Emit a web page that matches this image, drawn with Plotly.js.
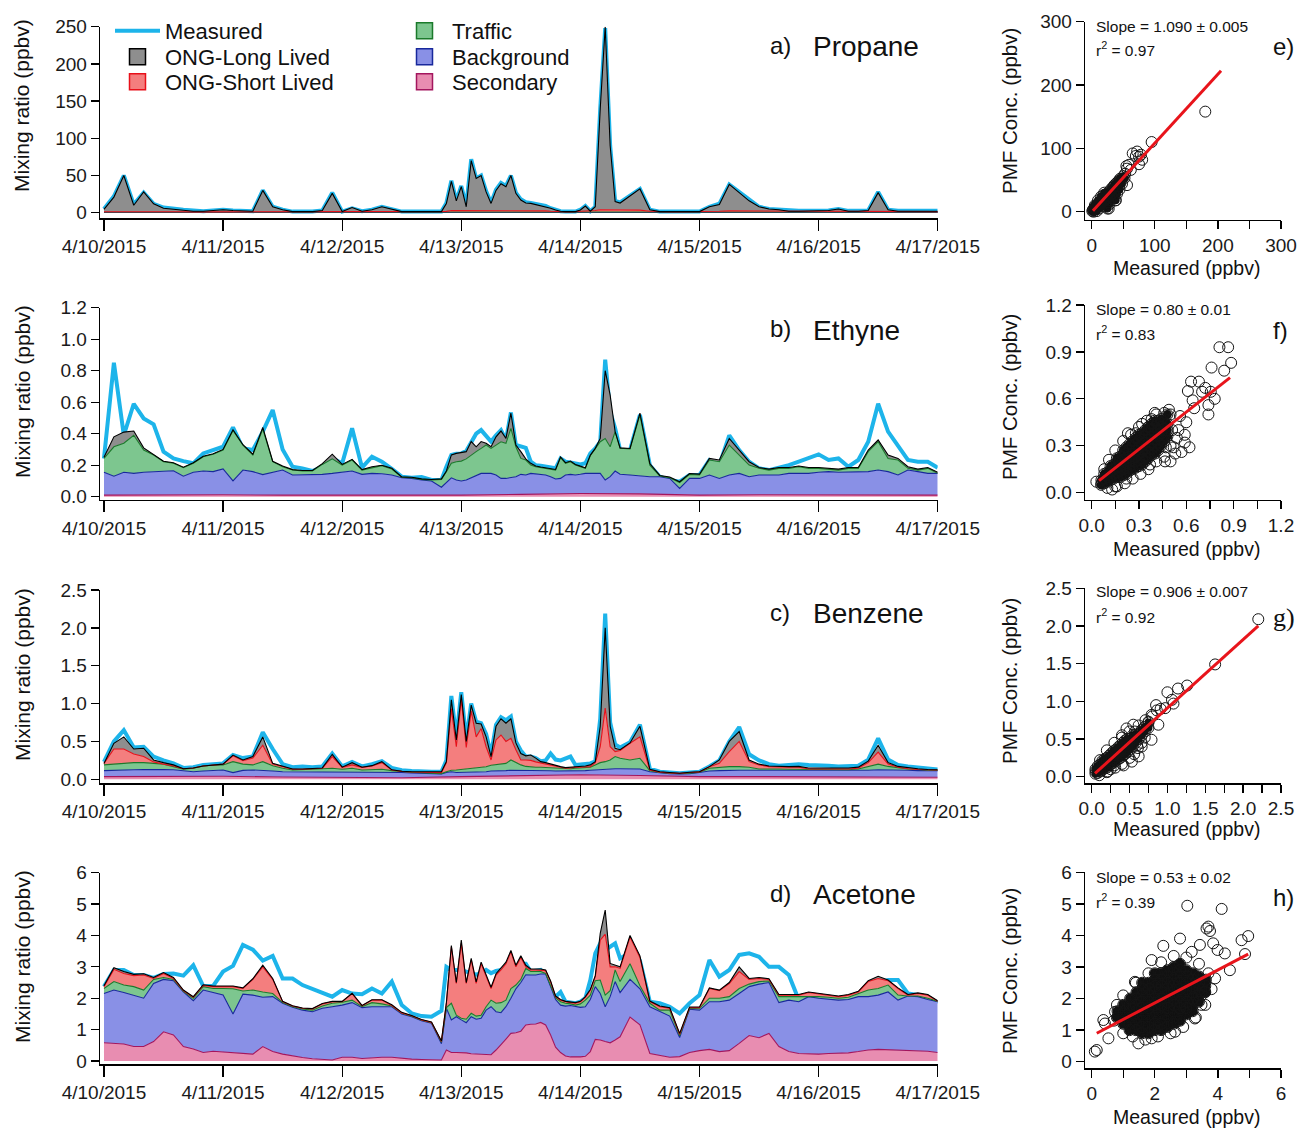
<!DOCTYPE html>
<html><head><meta charset="utf-8">
<script src="https://cdn.plot.ly/plotly-3.0.1.min.js"></script>
<style>html,body{margin:0;padding:0;background:#fff;}#chart{width:1298px;height:1129px;}</style>
</head><body><div id="chart"></div>
<script>
// ---------- sampling times (hours after 4/10/2015 00:00) ----------
const hours = [0,2,4,6,8,10,12,14,16,18,20,22,24,26,28,30,32,34,36,38,40,42,44,46,48,50,52,54,56,58,60,62,64,66,
68,69,70,71,72,73,74,75,76,77,78,79,80,81,82,83,84,85,86,87,88,89,90,91,92,93,94,95,96,97,98,99,100,101,102,103,104,
106,108,110,112,114,116,118,120,122,124,126,128,130,132,134,136,138,140,142,144,146,148,150,152,154,156,158,160,162,164,166,168];
const hours12 = [0,12,24,36,48,60,72,84,96,108,120,132,144,156,168];
const dayTickFormat = '%-m/%-d/%Y';

// ---------- a) Propane (ppbv); stacked layer tops ----------
const propane_measured = [5,22,50,11,27,12,7,5,4,3,2,3,4,3,3,2,30,8,4,1.5,1.5,1.5,3,27,1.5,6,2,4,8,5,1.5,1.5,2,1.5,
1.5,13,43,16,36,9,72,46,50,29,13,31,40,36,50,27,18,14,13,12,10,9,6,4,2,1.5,1.5,1.5,4,9,2,8,140,248,90,16,14,
23,32,4,1.5,1.5,1.5,1.5,1.5,8,12,38,28,17,8,5,4,2.5,2.5,2.5,3,3,5,2.5,2.5,3,28,4,2.5,2.5,2.5,2.5,2.5];
const propane_secondaryTop12 = [0.3,0.3,0.3,0.3,0.3,0.3,0.4,0.4,0.4,0.3,0.3,0.3,0.3,0.3,0.3];
const propane_backgroundTop12 = [0.8,0.8,0.8,0.8,0.7,0.7,0.9,0.9,0.9,0.8,0.7,0.8,0.8,0.8,0.8];
const propane_trafficTop12 = [1.0,1.0,1.0,1.0,0.9,0.9,1.1,1.1,1.1,1.0,0.9,1.0,1.0,1.0,1.0];
const propane_shortTop = [1.4,1.5,1.5,1.4,1.5,1.4,1.3,1.3,1.3,1.2,1.2,1.3,1.3,1.3,1.3,1.2,1.5,1.3,1.3,1.2,1.2,1.2,1.3,1.4,1.2,1.3,1.2,1.3,1.3,1.3,1.2,1.2,1.2,1.2,
1.2,1.8,3,3,3.5,3,3.5,3.5,3,3,3,3,3.5,3.5,3.5,3,3,3,3,3,3,2.5,2,1.5,1.3,1.3,1.3,1.5,2,2,1.8,3,4,4,3,3,3,
3,3.5,2,1.3,1.3,1.3,1.3,1.3,1.5,2,2.5,2.5,2,2,1.5,1.5,1.5,1.5,1.5,1.5,1.5,1.5,1.5,1.5,1.5,2,1.5,1.5,1.5,1.5,1.5,1.5];
const propane_longTop = [4.5,21,50,10,28,12,6,5,3,2,2,3,4,3,3,2,30,8,4,1.5,1.5,1.5,3,26,1.5,7,2,4,8,5,1.5,1.5,2,1.5,
1.5,12.5,42,16,35,8,70,46,50,28,12.5,30,39,35,50,26,17,13,12.5,11,10,8,6,3.6,2,1.5,1.5,1.5,3.6,9,2,8,140,250,90,15,13,
22,32,4,1.5,1.5,1.5,1.5,1.5,8,11,38,27,16,8,5,4,2,2,2,3,3,5,2,2,3,27,4,2,2,2,2,2];

// ---------- b) Ethyne ----------
const ethyne_measured = [.243,.85,.39,.59,.497,.46,.286,.243,.226,.212,.275,.296,.317,.44,.307,.296,.413,.55,.3,.19,.18,.163,.19,.243,.212,.434,.184,.254,.222,.176,.127,.12,.125,.106,
.106,.19,.265,.273,.275,.29,.35,.40,.423,.39,.35,.39,.423,.36,.535,.328,.317,.31,.222,.2,.197,.19,.184,.18,.243,.222,.218,.212,.205,.212,.275,.307,.35,.87,.54,.434,.296,
.296,.52,.2,.127,.106,.095,.138,.138,.233,.2,.39,.296,.222,.18,.169,.184,.2,.222,.243,.269,.233,.243,.19,.233,.349,.59,.413,.328,.233,.222,.222,.184];
const ethyne_secondaryTop12 = [0.01,0.012,0.012,0.01,0.01,0.008,0.01,0.015,0.02,0.018,0.01,0.012,0.012,0.012,0.01];
const ethyne_backgroundTop = [.155,.13,.155,.148,.155,.159,.163,.165,.13,.155,.163,.159,.176,.10,.169,.159,.14,.155,.169,.138,.138,.142,.142,.148,.155,.163,.142,.148,.146,.138,.12,.116,.106,.10,
.06,.09,.12,.106,.10,.106,.12,.133,.148,.148,.148,.138,.116,.116,.12,.127,.142,.138,.148,.144,.142,.138,.127,.112,.116,.138,.142,.138,.142,.148,.148,.148,.148,.106,.127,.163,.142,
.138,.133,.127,.127,.116,.053,.116,.116,.138,.116,.138,.148,.127,.138,.138,.138,.148,.148,.148,.155,.159,.155,.155,.155,.159,.169,.159,.138,.169,.159,.148,.148];
const ethyne_trafficTop = [.243,.317,.339,.39,.296,.265,.222,.212,.184,.212,.254,.269,.296,.42,.328,.265,.43,.222,.19,.169,.163,.163,.205,.24,.201,.233,.169,.184,.197,.176,.123,.12,.11,.106,
.11,.159,.212,.222,.226,.24,.265,.286,.307,.328,.307,.328,.349,.339,.434,.317,.243,.233,.201,.19,.184,.18,.176,.169,.248,.212,.222,.201,.19,.18,.26,.303,.349,.37,.317,.413,.307,
.303,.52,.2,.131,.12,.09,.142,.138,.233,.222,.328,.265,.201,.18,.169,.18,.18,.19,.18,.18,.176,.169,.18,.18,.286,.349,.243,.233,.18,.169,.18,.148];
const ethyne_longTop = [.25,.38,.41,.417,.31,.27,.225,.215,.187,.215,.257,.272,.3,.425,.33,.27,.44,.225,.195,.172,.166,.166,.21,.27,.205,.237,.172,.19,.2,.18,.126,.123,.113,.109,
.113,.163,.265,.275,.28,.286,.35,.317,.35,.339,.317,.38,.417,.37,.53,.328,.286,.24,.212,.195,.188,.184,.18,.173,.252,.216,.226,.205,.194,.184,.264,.307,.37,.80,.645,.413,.31,
.306,.53,.21,.135,.125,.095,.147,.143,.243,.233,.37,.296,.222,.185,.175,.185,.185,.195,.185,.185,.18,.175,.185,.185,.296,.36,.265,.243,.19,.175,.185,.155];

// ---------- c) Benzene ----------
const benzene_measured = [.23,.5,.65,.42,.43,.3,.25,.21,.15,.16,.19,.2,.21,.32,.28,.3,.62,.4,.2,.16,.17,.16,.17,.34,.17,.23,.17,.2,.24,.15,.12,.11,.1,.1,
.1,.25,1.1,.55,1.15,.52,1.0,.76,.74,.6,.33,.72,.82,.78,.83,.5,.38,.3,.3,.28,.24,.25,.34,.26,.25,.28,.3,.19,.2,.21,.21,.235,.8,2.19,.75,.46,.42,
.49,.72,.14,.1,.09,.08,.09,.1,.17,.25,.5,.69,.33,.25,.2,.18,.19,.2,.19,.19,.18,.17,.17,.18,.26,.54,.26,.19,.17,.16,.15,.13];
const benzene_secondaryTop12 = [0.035,0.04,0.04,0.03,0.03,0.02,0.035,0.05,0.06,0.05,0.035,0.035,0.03,0.03,0.026];
const benzene_backgroundTop = [.114,.12,.123,.125,.128,.132,.13,.125,.114,.1,.11,.118,.123,.088,.118,.123,.12,.11,.1,.1,.1,.1,.1,.1,.1,.1,.1,.1,.1,.1,.09,.085,.08,.078,
.07,.09,.1,.09,.09,.09,.1,.1,.1,.1,.11,.11,.11,.115,.12,.12,.12,.12,.12,.12,.12,.115,.113,.11,.11,.11,.11,.11,.115,.115,.12,.125,.13,.13,.135,.14,.14,
.138,.135,.1,.085,.075,.07,.075,.09,.11,.115,.12,.12,.12,.12,.12,.115,.115,.115,.115,.115,.115,.115,.115,.118,.12,.125,.125,.12,.12,.115,.115,.114];
const benzene_trafficTop = [.19,.2,.21,.22,.22,.21,.2,.167,.132,.145,.176,.185,.19,.233,.2,.19,.233,.18,.145,.123,.123,.132,.14,.145,.132,.145,.123,.123,.132,.114,.1,.092,.088,.08,
.075,.1,.12,.123,.13,.133,.14,.145,.154,.165,.185,.19,.2,.21,.255,.22,.19,.17,.16,.158,.158,.154,.15,.145,.145,.14,.14,.145,.15,.155,.16,.19,.22,.233,.255,.3,.277,
.255,.277,.114,.09,.08,.075,.08,.095,.145,.158,.167,.167,.158,.136,.14,.135,.133,.132,.125,.125,.125,.125,.125,.135,.17,.2,.17,.155,.135,.13,.12,.12];
const benzene_shortTop = [.21,.4,.4,.335,.3,.23,.2,.176,.14,.15,.176,.19,.2,.31,.246,.28,.45,.2,.167,.132,.132,.14,.145,.3,.158,.19,.158,.176,.22,.123,.105,.097,.097,.088,
.088,.22,.93,.43,1.05,.42,.9,.56,.67,.43,.255,.52,.585,.5,.54,.39,.255,.255,.25,.23,.216,.2,.19,.167,.158,.145,.15,.16,.158,.16,.167,.22,.43,.94,.43,.365,.38,
.475,.56,.123,.095,.085,.078,.09,.098,.167,.21,.365,.5,.233,.19,.167,.16,.16,.16,.135,.135,.135,.135,.135,.145,.22,.36,.2,.16,.14,.13,.125,.123];
const benzene_longTop = [.21,.475,.56,.4,.41,.255,.22,.19,.14,.15,.176,.19,.2,.32,.255,.3,.56,.21,.176,.135,.135,.145,.15,.33,.16,.22,.16,.18,.233,.125,.107,.1,.1,.09,
.1,.233,1.05,.52,1.12,.5,.98,.74,.73,.56,.3,.7,.8,.74,.8,.48,.34,.31,.32,.28,.233,.22,.2,.19,.167,.154,.158,.167,.176,.176,.19,.233,.7,2.0,.7,.41,.39,
.48,.7,.132,.1,.088,.079,.092,.1,.167,.255,.5,.63,.255,.2,.176,.167,.167,.17,.15,.15,.15,.15,.15,.16,.24,.45,.22,.17,.15,.14,.13,.125];

// ---------- d) Acetone ----------
const acetone_measured = [2.37,2.9,2.9,2.74,2.74,2.65,2.77,2.79,2.72,3.05,2.39,2.39,2.85,3.03,3.7,3.55,3.2,3.35,2.63,2.63,2.42,2.29,2.18,2.05,2.26,2.15,2.13,2.31,2.15,2.53,1.78,1.52,1.43,1.41,
1.6,3.0,2.9,2.9,2.9,2.85,2.79,2.75,2.8,2.9,2.8,2.87,2.9,3.0,3.15,3.0,3.1,3.1,2.85,2.88,2.9,2.69,2.2,2.05,2.2,1.89,1.86,1.84,1.89,2.0,2.58,3.43,3.75,3.54,3.64,3.75,3.27,
3.45,3.2,1.89,1.84,1.73,1.52,1.84,2.1,3.22,2.69,2.9,3.38,3.43,3.32,3.0,3.0,2.74,1.95,1.98,1.95,1.9,1.88,1.92,2.0,2.4,2.5,2.58,2.58,2.15,2.1,2.05,1.85];
const acetone_secondaryTop = [.58,.56,.54,.46,.46,.62,.93,.83,.46,.38,.27,.31,.29,.27,.24,.22,.46,.3,.22,.16,.11,.07,.05,.03,.12,.12,.08,.11,.12,.12,.08,.06,.05,.04,
.03,.35,.27,.27,.27,.26,.23,.22,.2,.19,.2,.35,.51,.7,.88,.9,.95,1.15,1.17,1.18,1.23,1.15,.83,.44,.27,.16,.13,.12,.13,.15,.3,.69,.67,.62,.58,.67,.77,
1.4,1.15,.24,.19,.12,.14,.27,.33,.37,.3,.33,.56,.81,.74,.88,.46,.3,.24,.22,.22,.24,.25,.26,.3,.35,.37,.36,.35,.33,.33,.31,.27];
const acetone_backgroundTop = [2.15,2.26,2.18,2.1,2.0,2.47,2.6,2.56,2.2,1.92,2.26,2.18,2.1,1.5,2.13,2.1,2.03,2.05,1.84,1.71,1.62,1.57,1.68,1.73,1.78,1.86,1.7,1.73,1.73,1.73,1.5,1.41,1.28,1.2,
.55,1.68,1.31,1.41,1.31,1.22,1.41,1.33,1.36,1.62,1.73,1.57,1.54,1.73,2.0,2.3,2.5,2.75,2.74,2.74,2.77,2.77,2.37,1.96,1.78,1.75,1.77,1.73,1.71,1.73,1.96,2.37,2.15,1.73,2.05,2.53,2.18,
2.6,2.3,1.73,1.57,1.43,.75,1.65,1.62,1.89,1.89,1.94,2.15,2.37,2.45,2.5,1.86,1.94,1.89,2.05,2.0,1.96,1.94,1.96,2.05,2.05,2.1,2.2,1.94,2.07,2.05,1.96,1.89];
const acetone_trafficTop = [2.31,2.53,2.42,2.37,2.26,2.6,2.66,2.6,2.22,2.0,2.37,2.31,2.31,2.3,2.23,2.26,2.2,2.15,1.86,1.73,1.66,1.62,1.75,1.84,1.87,1.94,1.73,1.86,1.82,1.75,1.52,1.43,1.3,1.22,
.6,1.7,1.84,1.46,1.36,1.33,1.52,1.43,1.46,1.73,1.94,1.84,1.86,1.94,2.31,2.42,2.6,2.95,2.85,2.85,2.85,2.79,2.39,2.02,1.89,1.84,1.82,1.78,1.82,1.94,2.1,2.56,2.58,2.1,2.24,2.9,2.53,
3.1,2.4,1.84,1.62,1.62,.8,1.67,1.68,2.0,2.0,2.05,2.31,2.45,2.53,2.55,2.05,2.05,2.05,2.07,2.05,2.03,2.0,2.03,2.15,2.26,2.31,2.42,2.1,2.07,2.07,2.0,1.9];
const acetone_shortTop = [2.37,2.92,2.79,2.72,2.74,2.63,2.79,2.63,2.24,2.03,2.41,2.37,2.37,2.37,2.31,2.6,3.0,2.6,1.89,1.75,1.68,1.66,1.82,1.89,1.89,2.15,1.76,1.94,1.94,1.77,1.53,1.44,1.31,1.23,
.62,1.84,3.64,2.47,3.75,2.47,3.22,2.47,3.1,2.69,2.31,2.74,2.9,3.1,3.48,3.0,3.3,3.0,2.9,2.9,2.9,2.88,2.53,2.05,1.94,1.89,1.86,1.84,1.89,2.03,2.26,2.69,3.85,4.04,3.0,3.0,2.95,
3.95,3.3,1.89,1.73,1.68,.85,1.7,1.7,2.31,2.24,2.47,2.85,2.6,2.63,2.6,2.1,2.1,2.1,2.18,2.13,2.1,2.05,2.1,2.2,2.53,2.63,2.56,2.31,2.1,2.15,2.1,1.9];
const acetone_longTop = [2.4,2.97,2.85,2.76,2.78,2.66,2.82,2.66,2.26,2.05,2.43,2.39,2.39,2.39,2.33,2.62,3.05,2.63,1.9,1.76,1.69,1.67,1.83,1.9,1.9,2.16,1.77,1.95,1.95,1.79,1.55,1.45,1.32,1.24,
.64,1.86,3.68,2.5,3.85,2.5,3.27,2.52,3.15,2.73,2.35,2.78,2.95,3.15,3.52,3.05,3.35,3.05,2.93,2.93,2.93,2.9,2.55,2.07,1.96,1.9,1.88,1.86,1.9,2.05,2.28,2.72,4.07,4.81,3.11,3.05,3.0,
4.0,3.35,1.91,1.75,1.7,.88,1.72,1.72,2.33,2.26,2.5,3.0,2.63,2.66,2.62,2.12,2.12,2.12,2.2,2.15,2.12,2.07,2.12,2.22,2.56,2.7,2.58,2.33,2.12,2.17,2.12,1.92];

// ---------- scatter panels: measured vs PMF (dense core + sparse outer points) ----------
const e_core_measured = [1,2,3,4,5,6,7,8,9,10,11,12,13,14,15,16,17,18,19,20,21,22,23,24,25,27,28,30,31,33,34,36,37,39,40,42,43,45,47,48,50,52,26,28,30,33,36,25,22,38,40,44,20,15,10,5,3,8,12];
const e_core_pmf = [1,3,2,5,4,7,6,10,8,12,9,14,12,16,13,19,15,21,17,23,18,26,20,28,22,31,25,35,27,38,30,42,33,45,36,48,40,52,50,44,56,53,15,12,18,22,25,5,8,18,28,35,30,24,18,10,0,1,5];
const e_outer_measured = [55,59,56,65,72,75,80,75,78,95,56,38,27,180,70,62,53,45,35,18,6];
const e_outer_pmf = [72,74,68,92,95,87,82,75,90,110,42,18,5,158,88,66,60,50,40,25,9];
const e_fitX = [2,205], e_fitY = [1.5,222.5];

const f_core_measured = [.06,.062,.08,.08,.08,.10,.10,.10,.12,.12,.12,.12,.14,.14,.14,.14,.16,.16,.16,.16,.16,.18,.18,.18,.18,.18,
.20,.20,.20,.20,.20,.20,.22,.22,.22,.22,.22,.22,.24,.24,.24,.24,.24,.24,.26,.26,.26,.26,.26,.26,.28,.28,.28,.28,.28,.28,
.30,.30,.30,.30,.30,.30,.32,.32,.32,.32,.32,.32,.34,.34,.34,.34,.34,.34,.36,.36,.36,.36,.36,.36,.38,.38,.38,.38,.38,.38,
.40,.40,.40,.40,.40,.40,.42,.42,.42,.42,.42,.44,.44,.44,.44,.44,.46,.46,.46,.46,.48,.48,.48,.48];
const f_core_pmf = [.05,.08,.06,.09,.12,.07,.10,.13,.08,.11,.14,.17,.09,.12,.15,.18,.10,.13,.16,.19,.22,.10,.14,.17,.20,.23,
.11,.15,.18,.21,.24,.27,.12,.16,.19,.22,.25,.29,.14,.17,.20,.23,.27,.31,.15,.18,.22,.25,.29,.33,.16,.20,.23,.27,.31,.35,
.17,.21,.25,.29,.33,.37,.18,.22,.26,.30,.34,.38,.20,.24,.28,.32,.36,.40,.22,.26,.30,.34,.38,.42,.24,.28,.32,.36,.40,.44,
.25,.30,.34,.38,.42,.46,.27,.32,.36,.40,.44,.30,.34,.38,.42,.47,.33,.37,.41,.45,.36,.40,.44,.50];
const f_outer_measured = [.81,.865,.884,.84,.76,.63,.68,.72,.755,.70,.61,.64,.78,.74,.74,.65,.60,.59,.59,.62,.57,.53,.50,.465,.52,.54,.56,.49,.40,.38,.42,.44,.51,.55,.28,.23,.32,.36,.45,.47,.37,.32,.15,.13,.22,.063,.03,
.10,.16,.21,.26,.31,.36,.41,.46,.50,.50,.46,.41,.35,.30,.25,.20,.15,.11,.08];
const f_outer_pmf = [.93,.93,.83,.78,.80,.71,.71,.67,.645,.645,.65,.59,.60,.56,.50,.54,.45,.37,.32,.29,.26,.25,.20,.20,.29,.35,.49,.53,.51,.47,.46,.40,.40,.40,.38,.38,.44,.42,.35,.29,.18,.21,.04,.02,.09,.06,.07,
.03,.04,.06,.09,.12,.15,.20,.23,.30,.50,.51,.50,.46,.42,.37,.33,.27,.21,.15];
const f_fitX = [0.047,0.877], f_fitY = [0.077,0.736];

const g_core_measured = [.05,.05,.05,.08,.08,.08,.08,.11,.11,.11,.11,.14,.14,.14,.14,.14,.17,.17,.17,.17,.17,.20,.20,.20,.20,.20,
.23,.23,.23,.23,.23,.26,.26,.26,.26,.26,.29,.29,.29,.29,.29,.32,.32,.32,.32,.32,.35,.35,.35,.35,.35,.38,.38,.38,.38,.38,
.41,.41,.41,.41,.41,.44,.44,.44,.44,.44,.47,.47,.47,.47,.47,.50,.50,.50,.50,.54,.54,.54,.54,.58,.58,.58,.62,.62,.66,.66,.70,.70,.75,.75];
const g_core_pmf = [.04,.07,.10,.05,.08,.11,.14,.07,.10,.13,.16,.09,.12,.15,.18,.21,.11,.14,.17,.20,.23,.12,.16,.19,.22,.25,
.15,.18,.21,.24,.28,.17,.20,.23,.27,.31,.19,.22,.26,.30,.34,.21,.25,.28,.32,.36,.23,.27,.31,.35,.39,.25,.29,.33,.37,.42,
.28,.32,.36,.40,.45,.30,.34,.38,.43,.48,.33,.37,.41,.46,.50,.36,.40,.45,.50,.40,.45,.50,.55,.45,.50,.56,.50,.56,.55,.62,.60,.66,.65,.72];
const g_outer_measured = [2.2,1.63,1.26,1.14,1.0,1.08,.97,1.06,.86,.88,.79,.79,.66,.62,.53,.42,.66,.75,.57,.46,.55,.40,.70,.60,.30,.25,.20,
.10,.21,.31,.40,.50,.56,.61,.66,.50,.40,.30,.20,.11,.62,.71,.80,.85,.91];
const g_outer_pmf = [2.09,1.49,1.21,1.17,1.12,.97,.91,1.02,.88,.69,.82,.49,.40,.27,.20,.15,.60,.73,.60,.64,.69,.55,.52,.42,.15,.10,.06,
.02,.07,.12,.17,.25,.30,.38,.45,.60,.52,.45,.35,.22,.68,.75,.80,.95,.90];
const g_fitX = [0.044,2.2], g_fitY = [0.044,2.0];

const h_core_measured = [.8,.82,1.0,1.0,1.02,1.0,1.2,1.2,1.22,1.2,1.2,1.22,1.4,1.4,1.4,1.42,1.4,1.4,1.42,
1.6,1.6,1.6,1.62,1.6,1.6,1.6,1.62,1.6,1.8,1.8,1.8,1.82,1.8,1.8,1.8,1.82,1.8,
2.0,2.0,2.0,2.02,2.0,2.0,2.0,2.02,2.0,2.0,2.2,2.2,2.2,2.22,2.2,2.2,2.2,2.22,2.2,2.2,
2.4,2.4,2.4,2.42,2.4,2.4,2.4,2.42,2.4,2.4,2.6,2.6,2.6,2.62,2.6,2.6,2.6,2.62,2.6,2.6,
2.8,2.8,2.8,2.82,2.8,2.8,2.8,2.82,2.8,2.8,3.0,3.0,3.02,3.0,3.0,3.0,3.02,3.0,3.2,3.2,3.22,3.2,3.2,3.2,3.22,
3.4,3.4,3.42,3.4,3.4,3.6,3.6,3.62];
const h_core_pmf = [1.4,1.6,1.2,1.4,1.6,1.8,1.0,1.2,1.4,1.6,1.8,2.0,1.0,1.2,1.4,1.6,1.8,2.0,2.2,
.9,1.1,1.3,1.5,1.7,1.9,2.1,2.3,2.5,.9,1.1,1.3,1.5,1.7,1.9,2.1,2.3,2.5,
1.0,1.2,1.4,1.6,1.8,2.0,2.2,2.4,2.6,2.8,1.0,1.2,1.4,1.6,1.8,2.0,2.2,2.4,2.6,2.8,
1.1,1.3,1.5,1.7,1.9,2.1,2.3,2.5,2.7,2.9,1.2,1.4,1.6,1.8,2.0,2.2,2.4,2.6,2.8,3.0,
1.3,1.5,1.7,1.9,2.1,2.3,2.5,2.7,2.9,3.1,1.5,1.7,1.9,2.1,2.3,2.5,2.7,2.9,1.6,1.8,2.0,2.2,2.4,2.6,2.8,
1.9,2.1,2.3,2.5,2.7,2.2,2.4,2.6];
const h_outer_measured = [3.03,4.12,4.96,4.75,4.86,3.64,3.75,3.7,4.38,4.22,3.99,3.85,3.43,3.17,2.8,2.27,1.9,1.37,1.11,1.48,1.9,2.64,2.69,3.48,3.59,3.91,.1,.16,.53,.37,.42,.74,3.27,3.48,
1.0,1.3,1.7,2.1,2.5,2.9,3.3,3.6,3.8,3.7,3.4,3.0,2.6,2.2,1.8,1.4,1.0,.8,.7];
const h_outer_pmf = [4.94,4.84,3.98,3.85,3.41,4.22,4.14,4.28,2.9,3.43,3.54,3.75,3.7,3.48,3.9,3.67,3.22,2.53,1.27,.58,.74,.95,1.27,1.8,2.22,2.64,.32,.37,.74,1.32,1.21,1.58,1.37,2.11,
.9,.8,.7,.8,.9,1.1,1.4,1.8,2.3,2.8,3.1,3.3,3.35,3.15,2.8,2.5,2.1,1.8,1.3];
const h_fitX = [0.16,4.96], h_fitY = [0.9,3.41];

// ---------- helpers / styling ----------
const W = 1298, H = 1129;
const px = v => v / W, py = v => 1 - v / H;
const F = '"Liberation Sans", Arial, Helvetica, sans-serif';
function hToDate(h){ const d = new Date(Date.UTC(2015,3,10) + h*3600000); return d.toISOString().slice(0,19).replace('T',' '); }
const times = hours.map(hToDate), times12 = hours12.map(hToDate);

const COL = {
  meas: '#1DB4EA',
  long: {fill:'#8E8E8E', line:'#000000'},
  short:{fill:'#F47E7E', line:'#E8101A'},
  traffic:{fill:'#7DC68F', line:'#1B7A2B'},
  bg:{fill:'#8990E6', line:'#18289C'},
  sec:{fill:'#E88DB1', line:'#A3165E'}
};

const data = [];
function layer(xa, ya, x, y, fill, c){
  data.push({type:'scatter', mode:'lines', x:x, y:y, xaxis:xa, yaxis:ya, fill:fill,
    fillcolor:c.fill, line:{color:c.line, width:1.1}, showlegend:false, hoverinfo:'skip'});
}
function panel(xa, ya, meas, secX, sec, bgX, bg, trX, tr, short, long){
  data.push({type:'scatter', mode:'lines', x:times, y:meas, xaxis:xa, yaxis:ya,
    line:{color:COL.meas, width:4}, showlegend:false, hoverinfo:'skip'});
  layer(xa, ya, secX, sec, 'tozeroy', COL.sec);
  layer(xa, ya, bgX, bg, 'tonexty', COL.bg);
  layer(xa, ya, trX, tr, 'tonexty', COL.traffic);
  if (short) layer(xa, ya, times, short, 'tonexty', COL.short);
  layer(xa, ya, times, long, 'tonexty', COL.long);
}
panel('x','y', propane_measured, times12, propane_secondaryTop12, times12, propane_backgroundTop12, times12, propane_trafficTop12, propane_shortTop, propane_longTop);
panel('x2','y2', ethyne_measured, times12, ethyne_secondaryTop12, times, ethyne_backgroundTop, times, ethyne_trafficTop, null, ethyne_longTop);
panel('x3','y3', benzene_measured, times12, benzene_secondaryTop12, times, benzene_backgroundTop, times, benzene_trafficTop, benzene_shortTop, benzene_longTop);
panel('x4','y4', acetone_measured, times, acetone_secondaryTop, times, acetone_backgroundTop, times, acetone_trafficTop, acetone_shortTop, acetone_longTop);

function scatterPanel(xa, ya, cx, cy, ox, oy, fx, fy, coreSize){
  // heavily over-plotted core: open circles drawn so densely they read as solid black
  data.push({type:'scatter', mode:'markers', x:cx, y:cy, xaxis:xa, yaxis:ya,
    marker:{symbol:'circle', size:coreSize, color:'#111'}, showlegend:false, hoverinfo:'skip'});
  data.push({type:'scatter', mode:'markers', x:cx.concat(ox), y:cy.concat(oy), xaxis:xa, yaxis:ya,
    marker:{symbol:'circle-open', size:11, color:'#151515', line:{width:1}}, showlegend:false, hoverinfo:'skip'});
  data.push({type:'scatter', mode:'lines', x:fx, y:fy, xaxis:xa, yaxis:ya,
    line:{color:'#E8141B', width:3}, showlegend:false, hoverinfo:'skip'});
}
scatterPanel('x5','y5', e_core_measured, e_core_pmf, e_outer_measured, e_outer_pmf, e_fitX, e_fitY, 8);
scatterPanel('x6','y6', f_core_measured, f_core_pmf, f_outer_measured, f_outer_pmf, f_fitX, f_fitY, 9);
scatterPanel('x7','y7', g_core_measured, g_core_pmf, g_outer_measured, g_outer_pmf, g_fitX, g_fitY, 8);
scatterPanel('x8','y8', h_core_measured, h_core_pmf, h_outer_measured, h_outer_pmf, h_fitX, h_fitY, 10);

// legend entries (one legend box per entry so each sits exactly where the reference has it)
const legendItems = [
  ['Measured', 'line', COL.meas, 'legend', 110, 31],
  ['ONG-Long Lived', 'box', COL.long, 'legend2', 110, 57],
  ['ONG-Short Lived', 'box', COL.short, 'legend3', 110, 82],
  ['Traffic', 'box', COL.traffic, 'legend4', 397, 31],
  ['Background', 'box', COL.bg, 'legend5', 397, 57],
  ['Secondary', 'box', COL.sec, 'legend6', 397, 82]
];
legendItems.forEach(([name, kind, c, lg]) => {
  if (kind === 'line') data.push({type:'scatter', mode:'lines', x:[null], y:[null], xaxis:'x', yaxis:'y', name:name, legend:lg, line:{color:c, width:4}, hoverinfo:'skip'});
  else data.push({type:'scatter', mode:'markers', x:[null], y:[null], xaxis:'x', yaxis:'y', name:name, legend:lg,
    marker:{symbol:'square', size:16, color:c.fill, line:{color:c.line, width:1.5}}, hoverinfo:'skip'});
});

const axBase = {showline:true, linecolor:'#000', linewidth:1.3, ticks:'outside', tickcolor:'#000', tickwidth:1.3, ticklen:8,
  showgrid:false, zeroline:false, fixedrange:true, tickfont:{family:F, size:19, color:'#1a1a1a'}};
const tsXDomain = [px(100), px(937.7)];
const tsRange = [hToDate(-0.8), hToDate(168)];
function tsX(anchor){ return Object.assign({}, axBase, {type:'date', domain:tsXDomain, range:tsRange, anchor:anchor,
  tick0:'2015-04-10', dtick:86400000, tickformat:dayTickFormat, ticklen:11}); }
function yAx(anchor, dom, range, dtick, fmt){ return Object.assign({}, axBase, {domain:dom, range:range, anchor:anchor, dtick:dtick, tick0:0, tickformat:fmt||''}); }
const scXDomain = [px(1085), px(1281)];
function scX(anchor, range, dtick, minor, fmt){ return Object.assign({}, axBase, {domain:scXDomain, range:range, anchor:anchor, dtick:dtick, tick0:0, tickformat:fmt||'',
  minor:{dtick:minor, tick0:0, ticks:'outside', ticklen:8, tickwidth:1.3, tickcolor:'#000'}}); }

const layout = {
  width:W, height:H, margin:{l:0,r:0,t:0,b:0}, paper_bgcolor:'#fff', plot_bgcolor:'rgba(0,0,0,0)',
  font:{family:F, size:19, color:'#1a1a1a'},
  xaxis: tsX('y'), xaxis2: tsX('y2'), xaxis3: tsX('y3'), xaxis4: tsX('y4'),
  yaxis: yAx('x', [py(218.3), py(26.7)], [-7.5, 250], 50),
  yaxis2: yAx('x2', [py(500), py(307.7)], [-0.021, 1.2], 0.2, '.1f'),
  yaxis3: yAx('x3', [py(783.3), py(590)], [-0.053, 2.5], 0.5, '.1f'),
  yaxis4: yAx('x4', [py(1064.2), py(872.7)], [-0.102, 6], 1),
  xaxis5: scX('y5', [-10.6, 300], 100, 50), yaxis5: yAx('x5', [py(220), py(21.7)], [-13.1, 300], 100),
  xaxis6: scX('y6', [-0.042, 1.2], 0.3, 0.15, '.1f'), yaxis6: yAx('x6', [py(500), py(305)], [-0.047, 1.2], 0.3, '.1f'),
  xaxis7: scX('y7', [-0.0885, 2.5], 0.5, 0.25, '.1f'), yaxis7: yAx('x7', [py(783.3), py(588.3)], [-0.0875, 2.5], 0.5, '.1f'),
  xaxis8: scX('y8', [-0.212, 6], 2, 1), yaxis8: yAx('x8', [py(1068.3), py(872.3)], [-0.209, 6], 1),
  annotations: []
};
legendItems.forEach(([name, kind, c, lg, x, y]) => {
  layout[lg] = {x:px(x), y:py(y), xanchor:'left', yanchor:'middle', bgcolor:'rgba(0,0,0,0)', borderwidth:0,
    font:{family:F, size:22, color:'#111'}, itemwidth:45, tracegroupgap:0};
});
const A = layout.annotations;
function txt(x, y, text, size, opts){ A.push(Object.assign({xref:'paper', yref:'paper', x:px(x), y:py(y), text:text, showarrow:false,
  xanchor:'left', yanchor:'middle', font:{family:F, size:size, color:'#111'}}, opts||{})); }
// panel titles
[['a)','Propane',45],['b)','Ethyne',329],['c)','Benzene',612],['d)','Acetone',893]].forEach(([l,n,y])=>{
  txt(768, y, l, 24); txt(811, y+1, n, 28);
});
// time-series y titles
[106, 392, 675, 957].forEach(y => txt(22, y, 'Mixing ratio (ppbv)', 21, {xanchor:'center', textangle:-90}));
// scatter titles and stats
const stats = [['Slope = 1.090 ± 0.005','r<sup>2</sup> = 0.97','e)',26,49,46,111,267.5],
               ['Slope = 0.80 ± 0.01','r<sup>2</sup> = 0.83','f)',309,333,331,397,549],
               ['Slope = 0.906 ± 0.007','r<sup>2</sup> = 0.92','g)',591,616,617,681,829],
               ['Slope = 0.53 ± 0.02','r<sup>2</sup> = 0.39','h)',877,901,897,971,1117]];
stats.forEach(([s,r,l,ys,yr,yl,yt,yx])=>{
  txt(1094, ys, s, 15.5);
  txt(1094, yr, r, 15.5);
  txt(1271, yl, l, 24, l==='g)' ? {font:{family:'"Liberation Serif", serif', size:26, color:'#111'}} : {});
  txt(1009, yt, 'PMF Conc. (ppbv)', 20.5, {xanchor:'center', textangle:-90});
  txt(1186, yx, 'Measured (ppbv)', 19.5, {xanchor:'center'});
});

Plotly.newPlot('chart', data, layout, {staticPlot:true, displayModeBar:false});
</script>
</body></html>
